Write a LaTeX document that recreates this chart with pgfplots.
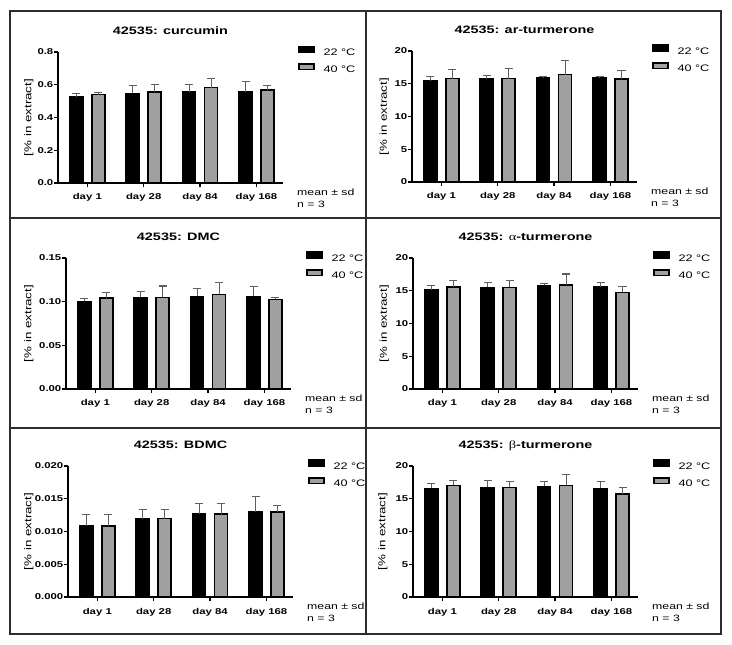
\documentclass[border=0pt]{standalone}
\usepackage{pgfplots}
\usepackage{pgfplotstable}
\pgfplotsset{compat=1.18}
\usepackage{fontspec}
\setmainfont{Liberation Sans}[FakeStretch=1.34]
\newfontfamily\grk{Liberation Serif}[FakeStretch=1.34]
\definecolor{bargray}{RGB}{160,160,160}
\definecolor{errgray}{RGB}{95,95,95}
\definecolor{framec}{RGB}{45,45,45}

% xa / xb: bar centres (category index -/+ 0.195)
\pgfplotstableread{
xa xb a ea b eb
-0.195 0.195 0.525 0.022 0.539 0.014
0.805 1.195 0.547 0.048 0.555 0.045
1.805 2.195 0.555 0.045 0.583 0.053
2.805 3.195 0.555 0.063 0.567 0.030
}\curc
\pgfplotstableread{
xa xb a ea b eb
-0.195 0.195 15.39 0.76 15.80 1.36
0.805 1.195 15.70 0.60 15.80 1.47
1.805 2.195 15.95 0.20 16.40 2.18
2.805 3.195 15.85 0.20 15.70 1.36
}\arturm
\pgfplotstableread{
xa xb a ea b eb
-0.195 0.195 0.1003 0.0034 0.1041 0.0069
0.805 1.195 0.1049 0.0072 0.1049 0.0130
1.805 2.195 0.1060 0.0088 0.1083 0.0138
2.805 3.195 0.1060 0.0111 0.1026 0.0019
}\dmc
\pgfplotstableread{
xa xb a ea b eb
-0.195 0.195 15.15 0.67 15.61 0.92
0.805 1.195 15.51 0.77 15.51 1.07
1.805 2.195 15.82 0.25 15.87 1.68
2.805 3.195 15.61 0.61 14.74 0.97
}\aturm
\pgfplotstableread{
xa xb a ea b eb
-0.195 0.195 0.01081 0.00178 0.01081 0.00178
0.805 1.195 0.01198 0.00132 0.01198 0.00132
1.805 2.195 0.01264 0.00157 0.01264 0.00157
2.805 3.195 0.01305 0.00228 0.01294 0.00107
}\bdmc
\pgfplotstableread{
xa xb a ea b eb
-0.195 0.195 16.60 0.66 17.06 0.71
0.805 1.195 16.75 1.02 16.75 0.85
1.805 2.195 16.90 0.70 17.06 1.62
2.805 3.195 16.60 1.00 15.69 1.01
}\bturm

\pgfplotsset{
  panel/.style={
    scale only axis, width=225bp, height=131bp, clip=false,
    xmin=-0.52, xmax=3.47, ymin=0,
    axis x line=bottom, axis y line=left,
    axis line style={-, black, line width=1.5bp},
    xtick={0,1,2,3}, xticklabels={day 1,day 28,day 84,day 168},
    tick align=outside, major tick length=4bp,
    tick style={black, line width=1.3bp},
    scaled y ticks=false,
    xticklabel style={font=\fontsize{8.5}{9}\selectfont\bfseries, anchor=base, inner sep=0pt, yshift=-13bp},
    yticklabel style={font=\fontsize{8.5}{9}\selectfont\bfseries, anchor=east, inner sep=0.5bp},
    ylabel={[\% in extract]},
    ylabel style={font=\fontsize{10}{11}\selectfont, anchor=center},
    title style={font=\fontsize{10.8}{12}\selectfont\bfseries, at={(axis description cs:0.5,1)}, anchor=base, yshift=11.5bp},
    legend style={draw=none, fill=none, inner sep=0pt, outer sep=0pt,
      at={(axis description cs:1,1)}, anchor=north west, xshift=15bp, yshift=6.5bp,
      font=\fontsize{9.5}{10}\selectfont, row sep=8bp, column sep=9bp,
      nodes={inner sep=0pt, text height=6.3bp, text depth=0pt}},
    legend cell align=left,
    legend image code/.code={\draw[#1] (0bp,0bp) rectangle (15bp,5.7bp);},
  },
  b22/.style={ybar, bar width=13bp, bar shift=0pt, fill=black, draw=black, line width=1.5bp,
    error bars/.cd, y dir=plus, y explicit,
    error bar style={errgray, line width=1.1bp},
    error mark options={rotate=90, errgray, line width=1.1bp, mark size=4bp}},
  b40/.style={ybar, bar width=13bp, bar shift=0pt, fill=bargray, draw=black, line width=1.5bp,
    error bars/.cd, y dir=plus, y explicit,
    error bar style={errgray, line width=1.1bp},
    error mark options={rotate=90, errgray, line width=1.1bp, mark size=4bp}},
}
\newcommand{\meansd}{%
  \node[anchor=base west, inner sep=0pt, font=\fontsize{9.2}{10}\selectfont] at (axis description cs:1,0) [xshift=14bp, yshift=-12.5bp] {mean ± sd};
  \node[anchor=base west, inner sep=0pt, font=\fontsize{9.2}{10}\selectfont] at (axis description cs:1,0) [xshift=14bp, yshift=-24.5bp] {n = 3};
}

\begin{document}
\begin{tikzpicture}
\path[use as bounding box, fill=white] (0bp,0bp) rectangle (732bp,645bp);
% panel frames
\begin{scope}[draw=framec, line width=1.6bp, x=1bp, y=1bp]
\draw (10,645-11) rectangle (366,645-218);
\draw (10,645-218) rectangle (366,645-428);
\draw (10,645-428) rectangle (366,645-634);
\draw (366,645-11) rectangle (721,645-218);
\draw (366,645-218) rectangle (721,645-428);
\draw (366,645-428) rectangle (721,645-634);
\end{scope}

% Panel 1: curcumin
\begin{axis}[panel, at={(58bp,462bp)}, anchor=south west,
  title={42535: curcumin}, ymax=0.8,
  ytick={0,0.2,0.4,0.6,0.8}, yticklabels={0.0,0.2,0.4,0.6,0.8},
  ylabel style={at={(axis description cs:-0.1302,0.5)}}]
\addplot[b22] table[x=xa, y=a, y error=ea] {\curc};
\addplot[b40] table[x=xb, y=b, y error=eb] {\curc};
\legend{22 °C, 40 °C}
\meansd
\end{axis}

% Panel 2: ar-turmerone
\begin{axis}[panel, at={(412bp,463bp)}, anchor=south west,
  title={42535: ar-turmerone}, ymax=20,
  ytick={0,5,10,15,20}, yticklabels={0,5,10,15,20},
  ylabel style={at={(axis description cs:-0.1231,0.5)}}]
\addplot[b22] table[x=xa, y=a, y error=ea] {\arturm};
\addplot[b40] table[x=xb, y=b, y error=eb] {\arturm};
\legend{22 °C, 40 °C}
\meansd
\end{axis}

% Panel 3: DMC
\begin{axis}[panel, at={(66bp,256bp)}, anchor=south west,
  title={42535: DMC}, ymax=0.15,
  ytick={0,0.05,0.1,0.15}, yticklabels={0.00,0.05,0.10,0.15},
  ylabel style={at={(axis description cs:-0.1658,0.5)}}]
\addplot[b22] table[x=xa, y=a, y error=ea] {\dmc};
\addplot[b40] table[x=xb, y=b, y error=eb] {\dmc};
\legend{22 °C, 40 °C}
\meansd
\end{axis}

% Panel 4: alpha-turmerone
\begin{axis}[panel, at={(413bp,256bp)}, anchor=south west,
  title={42535: {\mdseries\grk α}-turmerone}, ymax=20,
  ytick={0,5,10,15,20}, yticklabels={0,5,10,15,20},
  ylabel style={at={(axis description cs:-0.1276,0.5)}}]
\addplot[b22] table[x=xa, y=a, y error=ea] {\aturm};
\addplot[b40] table[x=xb, y=b, y error=eb] {\aturm};
\legend{22 °C, 40 °C}
\meansd
\end{axis}

% Panel 5: BDMC
\begin{axis}[panel, at={(68bp,48bp)}, anchor=south west,
  title={42535: BDMC}, ymax=0.02,
  ytick={0,0.005,0.01,0.015,0.02}, yticklabels={0.000,0.005,0.010,0.015,0.020},
  ylabel style={at={(axis description cs:-0.1747,0.5)}}]
\addplot[b22] table[x=xa, y=a, y error=ea] {\bdmc};
\addplot[b40] table[x=xb, y=b, y error=eb] {\bdmc};
\legend{22 °C, 40 °C}
\meansd
\end{axis}

% Panel 6: beta-turmerone
\begin{axis}[panel, at={(413bp,48bp)}, anchor=south west,
  title={42535: {\mdseries\grk β}-turmerone}, ymax=20,
  ytick={0,5,10,15,20}, yticklabels={0,5,10,15,20},
  ylabel style={at={(axis description cs:-0.1347,0.5)}}]
\addplot[b22] table[x=xa, y=a, y error=ea] {\bturm};
\addplot[b40] table[x=xb, y=b, y error=eb] {\bturm};
\legend{22 °C, 40 °C}
\meansd
\end{axis}
\end{tikzpicture}
\end{document}
